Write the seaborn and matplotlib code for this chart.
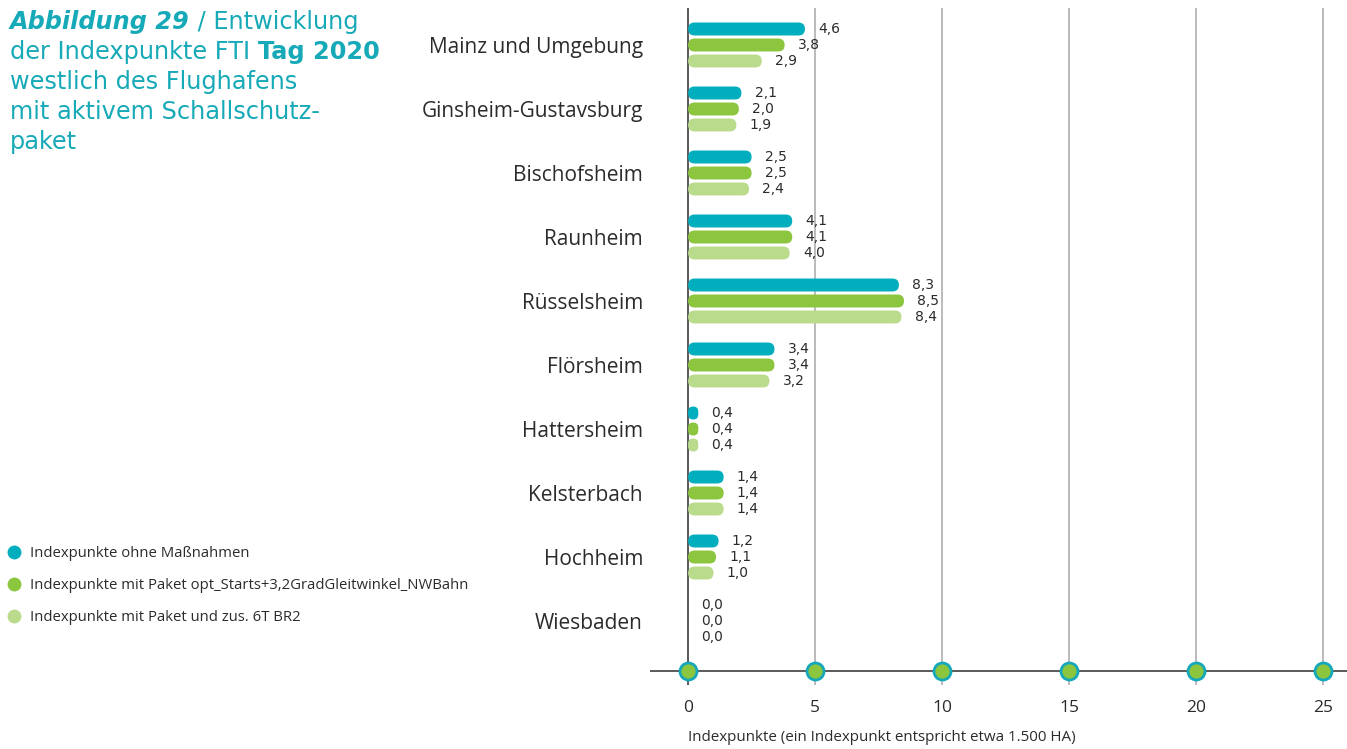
import matplotlib
matplotlib.use("Agg")
import matplotlib.pyplot as plt
import seaborn as sns
import pandas as pd
from matplotlib.patches import FancyBboxPatch
from matplotlib.lines import Line2D

categories = ["Mainz und Umgebung", "Ginsheim-Gustavsburg", "Bischofsheim", "Raunheim",
              "Rüsselsheim", "Flörsheim", "Hattersheim", "Kelsterbach", "Hochheim", "Wiesbaden"]
ohne = [4.6, 2.1, 2.5, 4.1, 8.3, 3.4, 0.4, 1.4, 1.2, 0.0]
paket = [3.8, 2.0, 2.5, 4.1, 8.5, 3.4, 0.4, 1.4, 1.1, 0.0]
paket_br2 = [2.9, 1.9, 2.4, 4.0, 8.4, 3.2, 0.4, 1.4, 1.0, 0.0]
series = ["Indexpunkte ohne Maßnahmen",
          "Indexpunkte mit Paket opt_Starts+3,2GradGleitwinkel_NWBahn",
          "Indexpunkte mit Paket und zus. 6T BR2"]
colors = ["#00AEBE", "#8CC63E", "#BADB8C"]
xticks = [0, 5, 10, 15, 20, 25]
xlabel = "Indexpunkte (ein Indexpunkt entspricht etwa 1.500 HA)"

FONT = "Open Sans"
TEAL = "#16A9B8"
DARK = "#2b2b2b"

sns.set_theme(style="white")
plt.rcParams["font.family"] = [FONT, "DejaVu Sans"]

W, H = 1347, 749
fig = plt.figure(figsize=(W / 100, H / 100), dpi=100)
ax = fig.add_axes([650 / W, 1 - 685 / H, (W - 650) / W, (685 - 8) / H])

rows = []
for s, vals in zip(series, [ohne, paket, paket_br2]):
    for c, v in zip(categories, vals):
        rows.append({"Gemeinde": c, "Serie": s, "Wert": v})
df = pd.DataFrame(rows)

sns.barplot(data=df, y="Gemeinde", x="Wert", hue="Serie", hue_order=series,
            order=categories, palette=colors, orient="h", width=0.75, gap=0.19,
            legend=False, ax=ax, saturation=1)

ax.set_xlim(-1.5, 25.94)
ax.set_ylim(10.0, -0.578)

# pixel scales
fig.canvas.draw()
bb = ax.get_window_extent()
px_x = bb.width / (ax.get_xlim()[1] - ax.get_xlim()[0])
px_y = bb.height / (ax.get_ylim()[0] - ax.get_ylim()[1])

# replace rectangles with rounded bars
bars = list(ax.patches)
for p in bars:
    x0, y0, w, h = p.get_x(), p.get_y(), p.get_width(), p.get_height()
    col = p.get_facecolor()
    p.remove()
    if w <= 0:
        continue
    half_h_px = abs(h) * px_y / 2
    r = min(half_h_px / px_x, w / 2)
    aspect = px_x / px_y
    fb = FancyBboxPatch((x0, min(y0, y0 + h)), w, abs(h),
                        boxstyle=f"round,pad=0,rounding_size={r}",
                        mutation_aspect=aspect, facecolor=col, edgecolor="none", zorder=3)
    ax.add_patch(fb)

# value labels
width_total = 0.75
for k, vals in enumerate([ohne, paket, paket_br2]):
    for i, v in enumerate(vals):
        yc = i + (k - 1) * width_total / 3
        ax.annotate(f"{v:.1f}".replace(".", ","), xy=(v, yc), xytext=(9.5, 0),
                    textcoords="offset points", va="center", ha="left",
                    fontsize=10, color=DARK, zorder=4, family="DejaVu Sans")

# grid & axes
sns.despine(ax=ax, left=True, bottom=True, top=True, right=True)
ax.set_xticks(xticks)
ax.xaxis.grid(True, color="#b0aeb0", lw=1.2, zorder=0)
ax.yaxis.grid(False)
ax.axvline(0, color="#5a5a5a", lw=1.4, zorder=1)
axis_y = 9.78
ax.axhline(axis_y, color="#5a5a5a", lw=1.4, zorder=2)
ax.scatter(xticks, [axis_y] * len(xticks), s=150, facecolor="#8CC63E",
           edgecolor="#14A8BA", linewidth=2, zorder=5, clip_on=False)
ax.tick_params(axis="x", length=0, pad=11, labelsize=12.5, labelcolor=DARK)
ax.tick_params(axis="y", length=0, pad=5, labelsize=15, labelcolor=DARK)
ax.set_xlabel("")
ax.set_ylabel("")
ax.text(0, -0.077, xlabel, transform=ax.get_xaxis_transform(), ha="left", va="center",
        fontsize=10.9, color=DARK)

# legend
handles = [Line2D([], [], marker="o", linestyle="none", markersize=10,
                  markerfacecolor=c, markeredgecolor="none") for c in colors]
fig.legend(handles, series, loc="upper left", bbox_to_anchor=(6 / W, 1 - 546 / H),
           frameon=False, fontsize=10.7, labelspacing=1.15, handletextpad=0.5,
           handlelength=1.1, borderpad=0, borderaxespad=0, labelcolor=DARK)

# title with mixed styles
renderer = fig.canvas.get_renderer()
title_lines = [
    [("Abbildung 29", "bold", "italic"), (" / Entwicklung", "normal", "normal")],
    [("der Indexpunkte FTI ", "normal", "normal"), ("Tag 2020", "bold", "normal")],
    [("westlich des Flughafens", "normal", "normal")],
    [("mit aktivem Schallschutz-", "normal", "normal")],
    [("paket", "normal", "normal")],
]
y0 = H - 22
for li, parts in enumerate(title_lines):
    x = 10
    y = y0 - li * 30
    for txt, wgt, sty in parts:
        t = fig.text(x / W, y / H, txt, fontsize=17.3, color=TEAL, fontweight=wgt,
                     fontstyle=sty, ha="left", va="center", family="DejaVu Sans")
        ext = t.get_window_extent(renderer)
        x = ext.x1

fig.savefig("out.png", dpi=100)
